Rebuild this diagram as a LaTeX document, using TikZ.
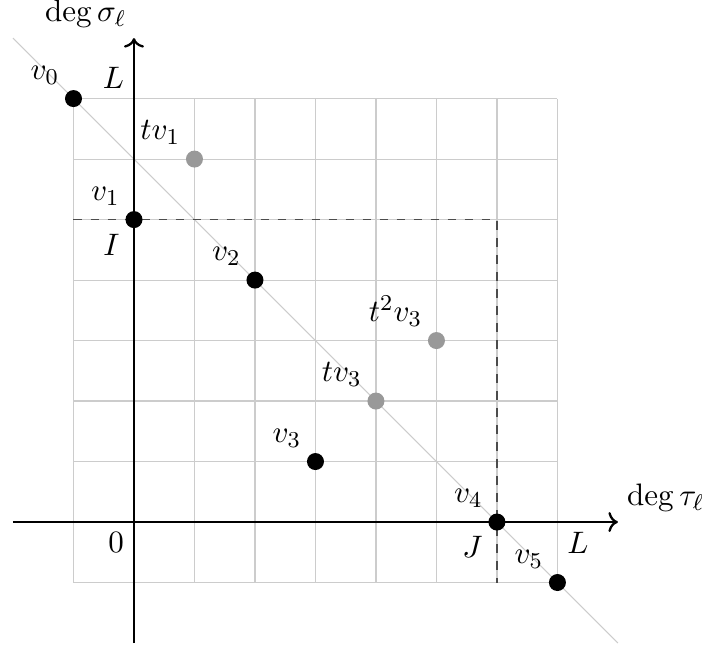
\documentclass[tikz,border=0pt]{standalone}
\usetikzlibrary{arrows.meta, positioning}
\begin{document}
\begin{tikzpicture}[scale=0.75, every node/.style={font=\fontsize{11}{13}\selectfont},
  every label/.style={label distance=-1pt},
  dot/.style={circle, fill=black, inner sep=0pt, minimum size=6pt},
  shiftdot/.style={circle, fill=black!40, inner sep=0pt, minimum size=6pt}]
\useasboundingbox (-2.215,-2.03) rectangle (9.39,8.63);
\draw[black!20] (-1,-1) grid (7,7);
\coordinate (dstart) at (-2,8);
\coordinate (dend) at (8,-2);
\draw[black!20] (dstart) -- (dend);
% axes
\coordinate (o) at (0,0);
\coordinate (xs) at (-2,0);
\coordinate (xe) at (8,0);
\coordinate (ys) at (0,-2);
\coordinate (ye) at (0,8);
\draw[->, thick] (xs) -- (xe) node[above right, xshift=-0.5pt] (xlab) {$\deg\tau_\ell$};
\draw[->, thick] (ys) -- (ye) node[above left, xshift=1pt] (ylab) {$\deg\sigma_\ell$};
\coordinate (ca) at (-1,5);
\coordinate (cb) at (6,5);
\coordinate (cc) at (6,-1);
\draw[dashed, black!70] (ca) -- (cb) -- (cc);
\node[below left] (zero) at (o) {$0$};
\node[above left] (ly) at (0,7) {$L$};
\node[below right] (lx) at (7,0) {$L$};
% points
\node[dot, label=above left:{$v_0$}] (v0) at (-1,7) {};
\node[dot, label=above left:{$v_1$}, label=below left:{$I$}] (v1) at (0,5) {};
\node[dot, label=above left:{$v_2$}] (v2) at (2,4) {};
\node[dot, label=above left:{$v_3$}] (v3) at (3,1) {};
\node[dot, label=above left:{$v_4$}, label=below left:{$J$}] (v4) at (6,0) {};
\node[dot, label=above left:{$v_5$}] (v5) at (7,-1) {};
\node[shiftdot, label=above left:{$tv_1$}] (tv1) at (1,6) {};
\node[shiftdot, label=above left:{$tv_3$}] (tv3) at (4,2) {};
\node[shiftdot, label=above left:{$t^2v_3$}] (ttv3) at (5,3) {};
\end{tikzpicture}
\end{document}
